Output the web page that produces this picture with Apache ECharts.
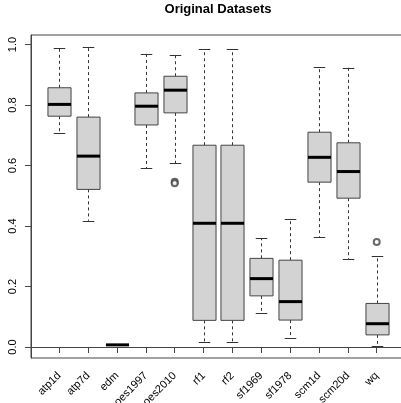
<!DOCTYPE html>
<html>
<head>
<meta charset="utf-8">
<script src="https://cdn.jsdelivr.net/npm/echarts@6/dist/echarts.min.js"></script>
<style>html,body{margin:0;padding:0;background:#fff}#c{width:401px;height:403px}</style>
</head>
<body>
<div id="c"></div>
<script>
const title = 'Original Datasets';
const categories = ['atp1d','atp7d','edm','oes1997','oes2010','rf1','rf2','sf1969','sf1978','scm1d','scm20d','wq'];
const lowerWhisker = [0.706,0.417,0.007,0.592,0.607,0.015,0.015,0.111,0.030,0.364,0.290,0.003];
const q1 =           [0.763,0.521,0.007,0.734,0.774,0.088,0.088,0.169,0.089,0.545,0.492,0.040];
const median =       [0.802,0.631,0.007,0.796,0.849,0.409,0.409,0.226,0.150,0.627,0.580,0.077];
const q3 =           [0.857,0.760,0.007,0.840,0.895,0.667,0.667,0.293,0.287,0.710,0.675,0.144];
const upperWhisker = [0.988,0.991,0.007,0.969,0.964,0.985,0.985,0.360,0.422,0.925,0.923,0.301];
const outlierCategory = ['oes2010','oes2010','wq'];
const outlierValue = [0.546,0.541,0.347];
const yTicks = [0,0.2,0.4,0.6,0.8,1.0];

const boxData = categories.map((c,i)=>[i+1, lowerWhisker[i], q1[i], median[i], q3[i], upperWhisker[i]]);
const outData = outlierCategory.map((c,i)=>[categories.indexOf(c)+1, outlierValue[i]]);
const xPositions = categories.map((c,i)=>i+1);

function renderBox(params, api){
  const x = api.value(0);
  const lo = api.coord([x, api.value(1)]);
  const b1 = api.coord([x, api.value(2)]);
  const md = api.coord([x, api.value(3)]);
  const b3 = api.coord([x, api.value(4)]);
  const hi = api.coord([x, api.value(5)]);
  const unit = api.size([1,0])[0];
  const bw = unit*0.8, cw = unit*0.4;
  const cx = Math.round(lo[0]) + 0.5;
  const dash = {stroke:'#333', lineWidth:1, lineDash:[3,3]};
  const solid = {stroke:'#333', lineWidth:1};
  const children = [
    {type:'line', shape:{x1:cx,y1:b3[1],x2:cx,y2:hi[1]}, style:dash},
    {type:'line', shape:{x1:cx,y1:b1[1],x2:cx,y2:lo[1]}, style:dash},
    {type:'line', shape:{x1:cx-cw/2,y1:Math.round(hi[1])+0.5,x2:cx+cw/2,y2:Math.round(hi[1])+0.5}, style:solid},
    {type:'line', shape:{x1:cx-cw/2,y1:Math.round(lo[1])+0.5,x2:cx+cw/2,y2:Math.round(lo[1])+0.5}, style:solid},
    {type:'rect', shape:{x:cx-bw/2,y:b3[1],width:bw,height:b1[1]-b3[1]}, style:{fill:'#d3d3d3', stroke:'#444', lineWidth:1}},
    {type:'line', shape:{x1:cx-bw/2,y1:md[1],x2:cx+bw/2,y2:md[1]}, style:{stroke:'#000', lineWidth:3}}
  ];
  return {type:'group', children};
}

const chart = echarts.init(document.getElementById('c'), null, {renderer:'canvas'});
chart.setOption({
  animation:false,
  backgroundColor:'#fff',
  title:{text:title, left:218, top:3, padding:0, textAlign:'center',
    textStyle:{fontFamily:'Liberation Sans, Arial, sans-serif', fontWeight:'bold', fontSize:13, color:'#000'}},
  grid:{left:31, top:35, width:374, height:323, show:true, borderColor:'#444', borderWidth:1,
    backgroundColor:'transparent', containLabel:false, outerBoundsMode:'none'},
  xAxis:{type:'value', min:0.02, max:12.98,
    axisLine:{show:true, lineStyle:{color:'#444'}},
    splitLine:{show:false},
    axisTick:{show:true, length:6, customValues:xPositions, lineStyle:{color:'#444'}},
    axisLabel:{customValues:xPositions, rotate:45, margin:16, fontSize:11, color:'#000',
      fontFamily:'Liberation Sans, Arial, sans-serif',
      formatter:v=>categories[Math.round(v)-1] || ''}
  },
  yAxis:{type:'value', min:-0.0364, max:1.0314,
    axisLine:{show:true, lineStyle:{color:'#444'}},
    splitLine:{show:false},
    axisTick:{show:true, length:6, customValues:yTicks, lineStyle:{color:'#444'}},
    axisLabel:{customValues:yTicks, rotate:90, margin:13, fontSize:11, color:'#000',
      fontFamily:'Liberation Sans, Arial, sans-serif',
      formatter:v=>v.toFixed(1)}
  },
  series:[
    {type:'custom', renderItem:renderBox, data:boxData, encode:{x:0, y:[1,2,3,4,5]}, clip:false},
    {type:'scatter', data:outData, symbol:'emptyCircle', symbolSize:6,
      itemStyle:{color:'#444', borderColor:'#444', borderWidth:1}}
  ]
});
</script>
</body>
</html>
